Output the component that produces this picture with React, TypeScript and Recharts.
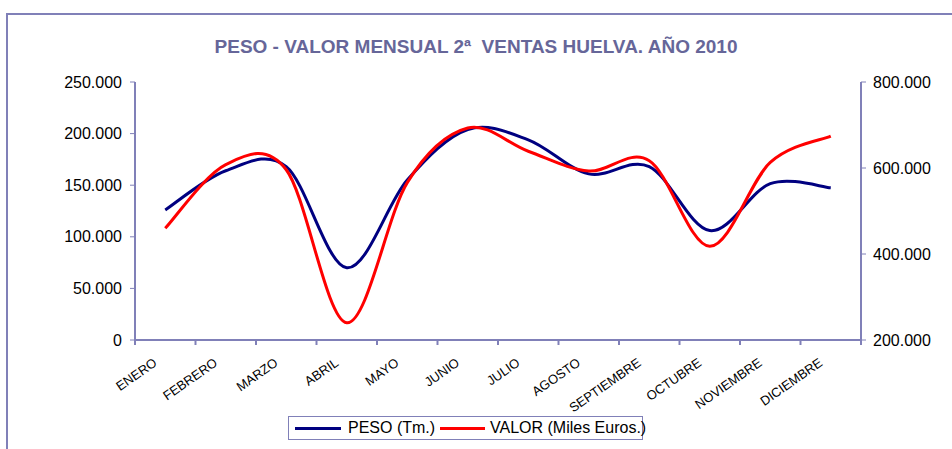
import React from "react";
import { LineChart, Line, XAxis, YAxis, ReferenceLine } from "recharts";

const months = [
  "ENERO", "FEBRERO", "MARZO", "ABRIL", "MAYO", "JUNIO",
  "JULIO", "AGOSTO", "SEPTIEMBRE", "OCTUBRE", "NOVIEMBRE", "DICIEMBRE",
];
const peso = [126000, 164000, 168000, 70000, 155000, 204000, 194000, 161000, 168000, 106000, 151500, 147500];
const valor = [460000, 608000, 596000, 240000, 566000, 693000, 639000, 593000, 617000, 418000, 613000, 674000];
const leftTicks = [0, 50000, 100000, 150000, 200000, 250000];
const rightTicks = [200000, 400000, 600000, 800000];
const title = "PESO - VALOR MENSUAL 2ª  VENTAS HUELVA. AÑO 2010";
const pesoName = "PESO (Tm.)";
const valorName = "VALOR (Miles Euros.)";

const data = months.map((m, i) => ({ x: i + 0.5, month: m, peso: peso[i], valor: valor[i] }));
const xTicks: number[] = [];
for (let i = 0; i <= months.length * 2; i++) xTicks.push(i / 2);

const FONT = '"Liberation Sans", Arial, sans-serif';
const AXIS = "#8080b8";

const fmt = (v: number) => String(v).replace(/\B(?=(\d{3})+(?!\d))/g, ".");

const excelSmooth: any = (context: any) => {
  let pts: number[][] = [];
  return {
    areaStart() {},
    areaEnd() {},
    lineStart() {
      pts = [];
    },
    point(x: number, y: number) {
      pts.push([+x, +y]);
    },
    lineEnd() {
      const n = pts.length;
      if (!n) return;
      context.moveTo(pts[0][0], pts[0][1]);
      for (let i = 0; i < n - 1; i++) {
        const p0 = pts[Math.max(i - 1, 0)];
        const p1 = pts[i];
        const p2 = pts[i + 1];
        const p3 = pts[Math.min(i + 2, n - 1)];
        context.bezierCurveTo(
          p1[0] + (p2[0] - p0[0]) / 6,
          p1[1] + (p2[1] - p0[1]) / 6,
          p2[0] - (p3[0] - p1[0]) / 6,
          p2[1] - (p3[1] - p1[1]) / 6,
          p2[0],
          p2[1]
        );
      }
    },
  };
};

const XTick = (props: any) => {
  const { x, y, payload } = props;
  const v = Number(payload.value);
  const isBoundary = Math.abs(v - Math.round(v)) < 1e-6;
  if (isBoundary) {
    return <path d={`M${x},${y}L${x},${y + 5}`} stroke={AXIS} strokeWidth={2} fill="none" />;
  }
  const label = months[Math.round(v - 0.5)] ?? "";
  return (
    <g transform={`translate(${x - 10},${y + 21}) rotate(-35)`}>
      <text x={0} y={0} dy="0.35em" textAnchor="end" fontSize={13} fontFamily={FONT} fill="#000">
        {label}
      </text>
    </g>
  );
};

const AxisBase = (props: any) => {
  const vb = props.viewBox || {};
  if (vb.x == null) return null;
  return <line x1={vb.x} x2={vb.x + vb.width} y1={vb.y} y2={vb.y} stroke={AXIS} strokeWidth={2} />;
};

export default function App() {
  return (
    <div style={{ position: "absolute", left: 0, top: 0, width: 952, height: 449, background: "#fff", overflow: "hidden" }}>
      <div
        style={{
          position: "absolute",
          left: 6,
          top: 13,
          width: 980,
          height: 480,
          borderTop: `2px solid ${AXIS}`,
          borderLeft: `2px solid ${AXIS}`,
        }}
      />
      <div
        style={{
          position: "absolute",
          left: 0,
          top: 37,
          width: 952,
          height: 19,
          textAlign: "center",
          fontFamily: FONT,
          fontWeight: "bold",
          fontSize: 19,
          lineHeight: "19px",
          color: "#666699",
          whiteSpace: "pre",
        }}
      >
        {title}
      </div>
      <div
        style={{
          position: "absolute",
          left: 288,
          top: 416,
          width: 355,
          height: 24,
          boxSizing: "border-box",
          border: `1px solid ${AXIS}`,
          fontFamily: FONT,
          fontSize: 16,
          color: "#000",
        }}
      >
        <div style={{ position: "absolute", left: 6, top: 10, width: 46, height: 3, background: "#000080" }} />
        <div style={{ position: "absolute", left: 59, top: 2, lineHeight: "18px", whiteSpace: "pre" }}>{pesoName}</div>
        <div style={{ position: "absolute", left: 151, top: 10, width: 45, height: 3, background: "#ff0000" }} />
        <div style={{ position: "absolute", left: 201, top: 2, lineHeight: "18px", whiteSpace: "pre" }}>{valorName}</div>
      </div>
      <div style={{ position: "absolute", left: 0, top: 0 }}>
        <LineChart width={952} height={449} data={data} margin={{ top: 82, right: 6, bottom: 48, left: 8 }}>
          <XAxis
            type="number"
            dataKey="x"
            domain={[0, 12]}
            ticks={xTicks}
            interval={0}
            tick={<XTick />}
            tickSize={0}
            tickMargin={0}
            height={61}
            axisLine={{ stroke: AXIS, strokeWidth: 2 }}
            tickLine={false}
            label={<AxisBase />}
          />
          <YAxis
            yAxisId="l"
            domain={[0, 250000]}
            ticks={leftTicks}
            interval={0}
            width={127}
            tickFormatter={fmt}
            tickSize={5}
            tickMargin={8}
            axisLine={{ stroke: AXIS, strokeWidth: 2 }}
            tickLine={{ stroke: AXIS }}
            tick={{ fontSize: 16, fontFamily: FONT, fill: "#000" }}
          />
          <YAxis
            yAxisId="r"
            orientation="right"
            domain={[200000, 800000]}
            ticks={rightTicks}
            interval={0}
            width={85}
            tickFormatter={fmt}
            tickSize={5}
            tickMargin={7}
            axisLine={{ stroke: AXIS, strokeWidth: 2 }}
            tickLine={{ stroke: AXIS }}
            tick={{ fontSize: 16, fontFamily: FONT, fill: "#000" }}
          />
          <ReferenceLine yAxisId="l" y={0} stroke={AXIS} strokeWidth={2} ifOverflow="visible" />
          <Line
            yAxisId="l"
            dataKey="peso"
            type={excelSmooth}
            stroke="#000080"
            strokeWidth={3}
            dot={false}
            activeDot={false}
            isAnimationActive={false}
          />
          <Line
            yAxisId="r"
            dataKey="valor"
            type={excelSmooth}
            stroke="#ff0000"
            strokeWidth={3}
            dot={false}
            activeDot={false}
            isAnimationActive={false}
          />
        </LineChart>
      </div>
    </div>
  );
}
